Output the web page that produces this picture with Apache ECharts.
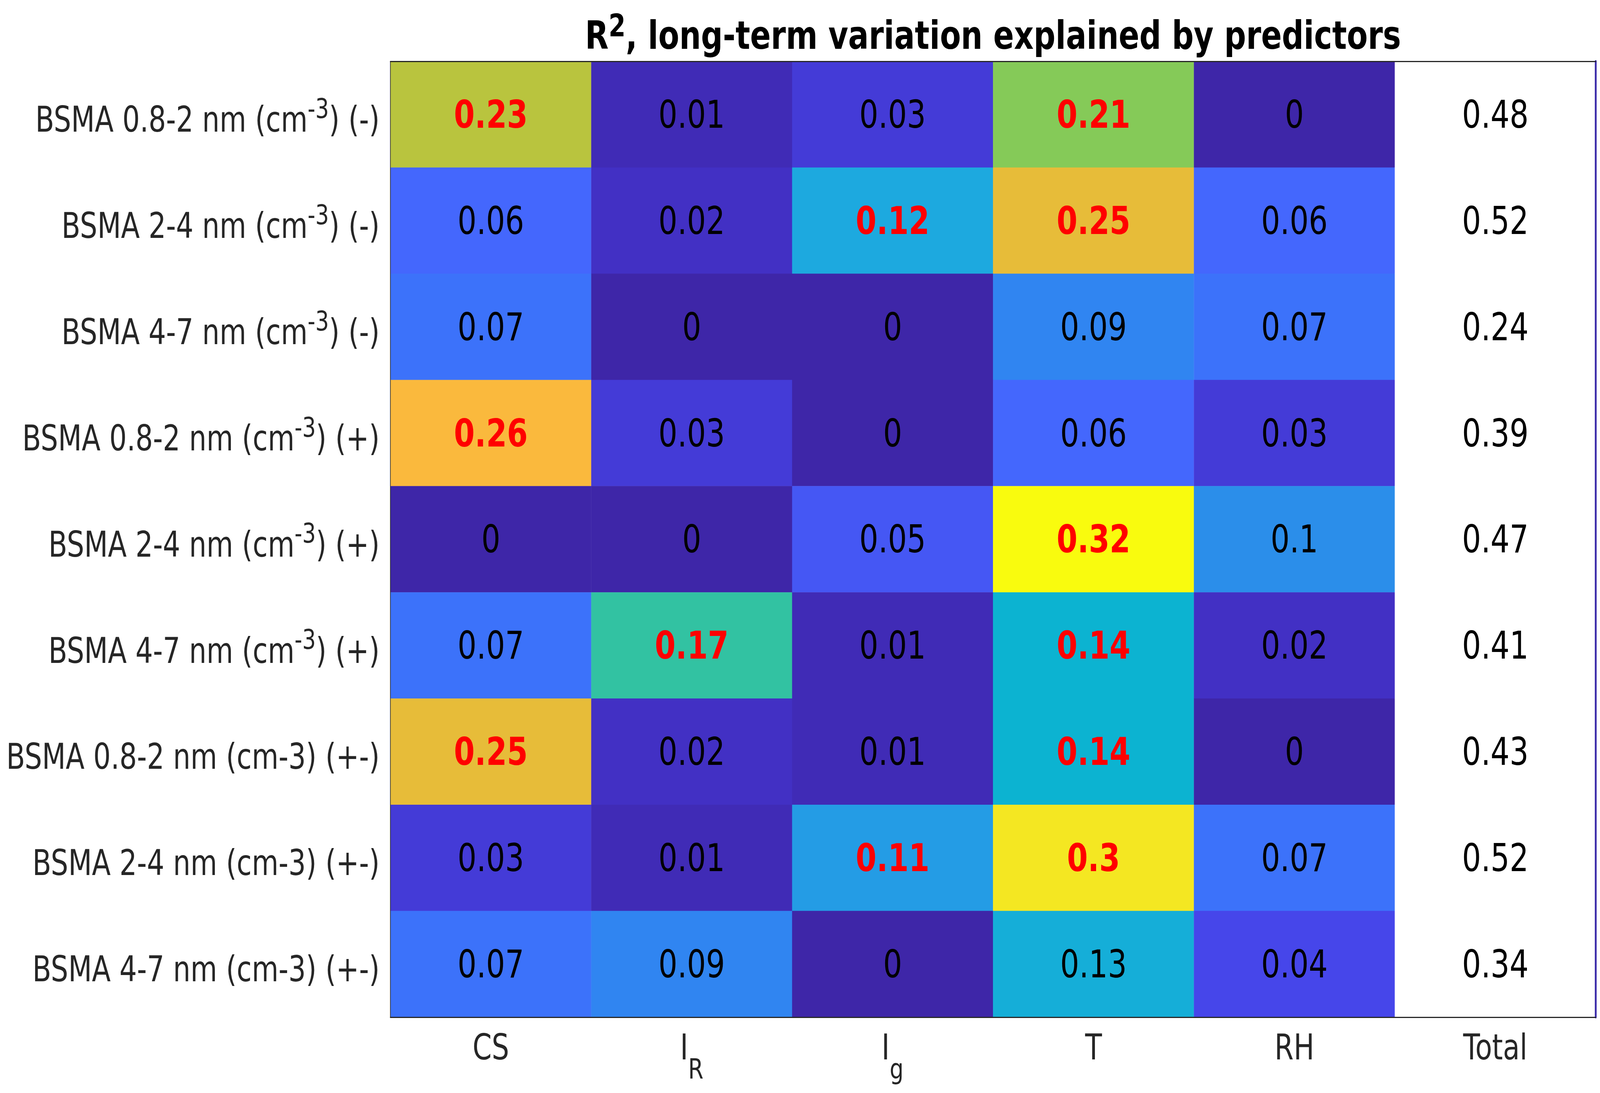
<!DOCTYPE html>
<html>
<head>
	<meta charset="utf-8" />
	<title>R2 long-term variation</title>
	<script type="text/javascript" src="https://cdn.jsdelivr.net/npm/echarts@6/dist/echarts.min.js"></script>
	<style>
		html, body {margin:0;padding:0;background:#fff;overflow:hidden;}
		#chart {width:5242px;height:2798px;transform-origin:0 0;}
	</style>
</head>
<body>
	<div id="chart"></div>

	<script>
		// columns (predictors), "_x" = subscript
		var predictors = ['CS', 'I_R', 'I_g', 'T', 'RH'];
		var totalName = 'Total';

		// rows, "^{..}" = superscript
		var targets = [
			'BSMA 0.8-2 nm (cm^{-3}) (-)',
			'BSMA 2-4 nm (cm^{-3}) (-)',
			'BSMA 4-7 nm (cm^{-3}) (-)',
			'BSMA 0.8-2 nm (cm^{-3}) (+)',
			'BSMA 2-4 nm (cm^{-3}) (+)',
			'BSMA 4-7 nm (cm^{-3}) (+)',
			'BSMA 0.8-2 nm (cm-3) (+-)',
			'BSMA 2-4 nm (cm-3) (+-)',
			'BSMA 4-7 nm (cm-3) (+-)'
		];

		// R2 per row: CS, I_R, I_g, T, RH
		var r2 = [
			[0.23, 0.01, 0.03, 0.21, 0],
			[0.06, 0.02, 0.12, 0.25, 0.06],
			[0.07, 0,    0,    0.09, 0.07],
			[0.26, 0.03, 0,    0.06, 0.03],
			[0,    0,    0.05, 0.32, 0.1],
			[0.07, 0.17, 0.01, 0.14, 0.02],
			[0.25, 0.02, 0.01, 0.14, 0],
			[0.03, 0.01, 0.11, 0.3,  0.07],
			[0.07, 0.09, 0,    0.13, 0.04]
		];
		// 1 = shown in bold red
		var marked = [
			[1, 0, 0, 1, 0],
			[0, 0, 1, 1, 0],
			[0, 0, 0, 0, 0],
			[1, 0, 0, 0, 0],
			[0, 0, 0, 1, 0],
			[0, 1, 0, 1, 0],
			[1, 0, 0, 1, 0],
			[0, 0, 1, 1, 0],
			[0, 0, 0, 0, 0]
		];
		var totals = [0.48, 0.52, 0.24, 0.39, 0.47, 0.41, 0.43, 0.52, 0.34];

		var colorMin = 0;
		var colorMax = 0.32;

		// parula, evenly spaced stops
		var parula = [
			'#3e26a8', '#4230c4', '#4646ea', '#4467fd', '#347cf7', '#2b8eea',
			'#1da9df', '#0cb3d1', '#25beac', '#3fc697', '#6ccb68', '#9ec947',
			'#d3bf35', '#fab93d', '#f8cf2e', '#f4e722', '#f9fb0e'
		];

		var FONT = 'DejaVu Sans';
		var W = 5242, H = 2798;
		var grid = {left: 1279, top: 157, width: 3949, height: 2447};

		// the window may be narrower than the figure: fit the figure to it
		var box = document.getElementById('chart');
		box.style.transform = 'scale(' + (window.innerWidth / W) + ',' + (window.innerHeight / H) + ')';

		var cells = [];
		r2.forEach(function(row, y) {
			row.forEach(function(v, x) {
				var hot = marked[y][x] === 1;
				cells.push({
					value: [x, y, v],
					label: {color: hot ? '#ff0000' : '#000000', fontWeight: hot ? 'bold' : 'normal'}
				});
			});
		});

		var totalCells = totals.map(function(v, y) {
			return {value: [predictors.length, y, v]};
		});

		function xFmt(v) {
			var p = v.split('_');
			if (p.length > 1) return '{m|' + p[0] + '}{s|' + p[1] + '}';
			return '{m|' + v + '}';
		}

		function yFmt(v) {
			return '{m|' + v.replace(/\^\{([^}]*)\}/, '}{s|$1}{m|') + '}';
		}

		var chart = echarts.init(box, null, {renderer: 'svg', width: W, height: H});

		var option = {
			backgroundColor: '#ffffff',
			animation: false,
			textStyle: {fontFamily: FONT},
			title: {
				text: '{m|R}{s|2}{m|, long-term variation explained by predictors}',
				left: grid.left + grid.width / 2,
				textAlign: 'center',
				top: 25,
				padding: 0,
				textStyle: {
					rich: {
						m: {fontSize: 100, lineHeight: 130, fontWeight: 'bold', color: '#000', fontFamily: FONT},
						s: {fontSize: 80, lineHeight: 46, verticalAlign: 'top', fontWeight: 'bold', color: '#000', fontFamily: FONT}
					}
				}
			},
			grid: grid,
			xAxis: [
				{
					type: 'category',
					data: predictors.concat([totalName]),
					position: 'bottom',
					z: 5,
					splitArea: {show: false},
					axisLine: {lineStyle: {color: '#262626', width: 3}},
					axisTick: {inside: true, alignWithLabel: true, length: 39, lineStyle: {color: '#262626', width: 2}},
					axisLabel: {
						margin: 32,
						formatter: xFmt,
						rich: {
							m: {fontSize: 90, lineHeight: 100, verticalAlign: 'top', color: '#262626', fontFamily: FONT},
							s: {fontSize: 72, lineHeight: 72, verticalAlign: 'top', padding: [64, 0, 0, 0], color: '#262626', fontFamily: FONT}
						}
					}
				},
				{
					type: 'category',
					data: predictors.concat([totalName]),
					position: 'top',
					z: 5,
					axisLine: {lineStyle: {color: '#262626', width: 3}},
					axisTick: {inside: true, alignWithLabel: true, length: 40, lineStyle: {color: '#262626', width: 2}},
					axisLabel: {show: false}
				}
			],
			yAxis: [
				{
					type: 'category',
					data: targets,
					inverse: true,
					position: 'left',
					z: 5,
					axisLine: {lineStyle: {color: '#262626', width: 2}},
					axisTick: {inside: true, alignWithLabel: true, length: 40, lineStyle: {color: '#262626', width: 2}},
					axisLabel: {
						margin: 35,
						formatter: yFmt,
						rich: {
							m: {fontSize: 90, lineHeight: 100, padding: [26, 0, 0, 0], color: '#262626', fontFamily: FONT},
							s: {fontSize: 70, lineHeight: 76, verticalAlign: 'top', color: '#262626', fontFamily: FONT}
						}
					}
				},
				{
					type: 'category',
					data: targets,
					inverse: true,
					position: 'right',
					z: 5,
					axisLine: {lineStyle: {color: '#3b2ba9', width: 6}},
					axisTick: {inside: true, alignWithLabel: true, length: 39, lineStyle: {color: '#262626', width: 2}},
					axisLabel: {show: false}
				}
			],
			visualMap: {
				type: 'continuous',
				show: false,
				min: colorMin,
				max: colorMax,
				dimension: 2,
				seriesIndex: 0,
				inRange: {color: parula}
			},
			series: [
				{
					type: 'heatmap',
					data: cells,
					itemStyle: {borderWidth: 0},
					emphasis: {disabled: true},
					label: {
						show: true,
						fontSize: 98,
						fontFamily: FONT,
						formatter: function(p) { return String(p.value[2]); }
					}
				},
				{
					type: 'heatmap',
					data: totalCells,
					itemStyle: {color: '#ffffff', borderWidth: 0},
					emphasis: {disabled: true},
					label: {
						show: true,
						fontSize: 98,
						fontFamily: FONT,
						color: '#000000',
						formatter: function(p) { return String(p.value[2]); }
					}
				}
			]
		};

		chart.setOption(option);
	</script>
</body>
</html>
